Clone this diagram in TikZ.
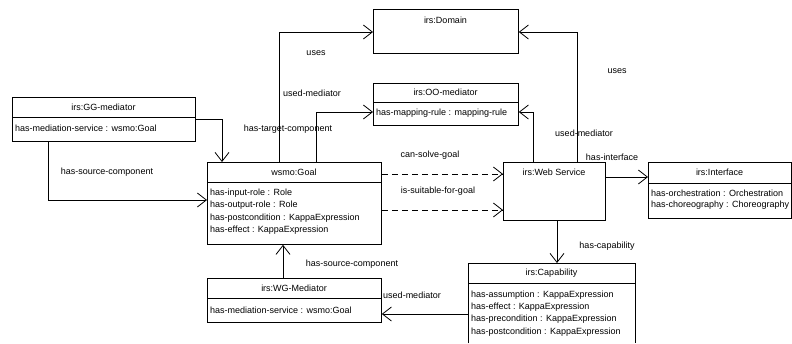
\documentclass[tikz,border=0pt]{standalone}
\usepackage{fontspec}
\setmainfont{Liberation Sans}
\usetikzlibrary{arrows.meta}
\begin{document}
\begin{tikzpicture}[x=1pt,y=-1pt,
  box/.style={draw, line width=0.8pt, inner sep=0pt, anchor=north west},
  openbox/.style={inner sep=0pt, anchor=north west},
  lbl/.style={font=\fontsize{9}{10}\selectfont, inner sep=0pt},
  attr/.style={lbl, anchor=west},
  conn/.style={line width=0.8pt, -{Straight Barb[length=9pt,width=14pt]}},
  dconn/.style={conn, dash pattern=on 6pt off 4pt}]
\useasboundingbox (0,0) rectangle (792,343);

% boxes
\node[box, minimum width=145pt, minimum height=44pt] (dom) at (373,9) {};
\node[lbl] (domT) at (445.5,20) {irs:Domain};

\node[box, minimum width=145pt, minimum height=42pt] (oo) at (373,83) {};
\draw[line width=0.8pt] (oo.west |- 0,102) -- (oo.east |- 0,102);
\node[lbl] (ooT) at (445.5,92) {irs:OO-mediator};
\node[attr] (ooA) at (376,113) {has-mapping-rule : mapping-rule};

\node[box, minimum width=183pt, minimum height=44pt] (gg) at (12,97) {};
\draw[line width=0.8pt] (gg.west |- 0,117) -- (gg.east |- 0,117);
\node[lbl] (ggT) at (103.5,107) {irs:GG-mediator};
\node[attr] (ggA) at (15,128.5) {has-mediation-service : wsmo:Goal};

\node[box, minimum width=174pt, minimum height=82pt] (goal) at (207,162) {};
\draw[line width=0.8pt] (goal.west |- 0,182) -- (goal.east |- 0,182);
\node[lbl] (goalT) at (294,172.5) {wsmo:Goal};
\node[attr] (goalA1) at (210,193) {has-input-role : Role};
\node[attr] (goalA2) at (210,205.5) {has-output-role : Role};
\node[attr] (goalA3) at (210,218) {has-postcondition : KappaExpression};
\node[attr] (goalA4) at (210,230.5) {has-effect : KappaExpression};

\node[box, minimum width=102pt, minimum height=58pt] (ws) at (503,162) {};
\node[lbl] (wsT) at (554,172.5) {irs:Web Service};

\node[box, minimum width=143pt, minimum height=56pt] (intf) at (648,162) {};
\draw[line width=0.8pt] (intf.west |- 0,183) -- (intf.east |- 0,183);
\node[lbl] (intfT) at (719.5,172.5) {irs:Interface};
\node[attr] (intfA1) at (651,193.5) {has-orchestration : Orchestration};
\node[attr] (intfA2) at (651,205.5) {has-choreography : Choreography};

\node[openbox, minimum width=167pt, minimum height=80pt] (cap) at (468,263) {};
\draw[line width=0.8pt] (cap.south west) |- (cap.north east) -- (cap.south east);
\draw[line width=0.8pt] (cap.west |- 0,283) -- (cap.east |- 0,283);
\node[lbl] (capT) at (551.5,273) {irs:Capability};
\node[attr] (capA1) at (471,295.5) {has-assumption : KappaExpression};
\node[attr] (capA2) at (471,307.5) {has-effect : KappaExpression};
\node[attr] (capA3) at (471,319.5) {has-precondition : KappaExpression};
\node[attr] (capA4) at (471,332) {has-postcondition : KappaExpression};

\node[box, minimum width=174pt, minimum height=44pt] (wg) at (207,278) {};
\draw[line width=0.8pt] (wg.west |- 0,298) -- (wg.east |- 0,298);
\node[lbl] (wgT) at (294,288) {irs:WG-Mediator};
\node[attr] (wgA) at (210,310) {has-mediation-service : wsmo:Goal};

% connectors
\draw[conn] (gg.east |- 0,119) -| (222,0 |- goal.north);
\draw[conn] (48,0 |- gg.south) |- (goal.west |- 0,200);
\draw[conn] (279,0 |- goal.north) |- (dom.west |- 0,32);
\draw[conn] (316,0 |- goal.north) |- (oo.west |- 0,112);
\draw[conn] (577,0 |- ws.north) |- (dom.east |- 0,32);
\draw[conn] (533,0 |- ws.north) |- (oo.east |- 0,112);
\draw[conn] (ws.east |- 0,177) -- (intf.west |- 0,177);
\draw[dconn] (goal.east |- 0,174) -- (ws.west |- 0,174);
\draw[dconn] (goal.east |- 0,210) -- (ws.west |- 0,210);
\draw[conn] (557,0 |- ws.south) -- (557,0 |- cap.north);
\draw[conn] (cap.west |- 0,314) -- (wg.east |- 0,314);
\draw[conn] (283,0 |- wg.north) -- (283,0 |- goal.south);

% connector labels
\node[lbl] (l1) at (107,172) {has-source-component};
\node[lbl] (l2) at (316,53) {uses};
\node[lbl] (l3) at (312,93) {used-mediator};
\node[lbl] (l4) at (288,129) {has-target-component};
\node[lbl] (l5) at (617,71) {uses};
\node[lbl] (l6) at (584,133) {used-mediator};
\node[lbl] (l7) at (612,157) {has-interface};
\node[lbl] (l8) at (430,155) {can-solve-goal};
\node[lbl] (l9) at (438,191) {is-suitable-for-goal};
\node[lbl] (l10) at (607,246) {has-capability};
\node[lbl] (l11) at (412,295) {used-mediator};
\node[lbl] (l12) at (352,264) {has-source-component};
\end{tikzpicture}
\end{document}
